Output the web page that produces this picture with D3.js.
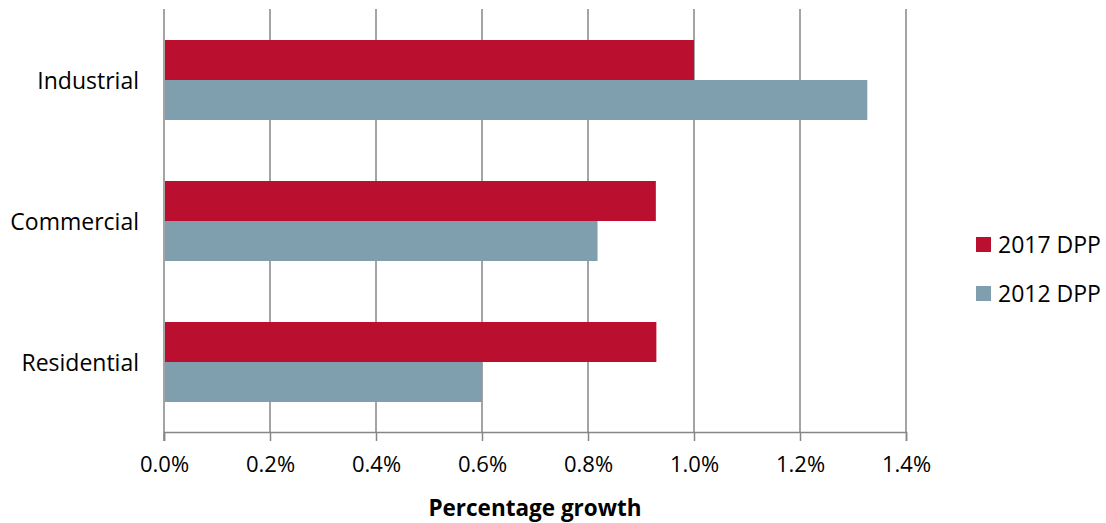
<!DOCTYPE html>
<html><head><meta charset="utf-8">
<script src="https://cdn.jsdelivr.net/npm/d3@7"></script>
<style>body{margin:0;background:#fff}svg{display:block}text{font-family:"Open Sans",sans-serif;fill:#000}</style>
</head><body>
<svg id="c" width="1106" height="523"></svg>
<script>
const categories = ["Industrial", "Commercial", "Residential"];
const seriesNames = ["2017 DPP", "2012 DPP"];
const values2017 = [1.0, 0.928, 0.929];
const values2012 = [1.327, 0.818, 0.6];
const tickValues = [0, 0.2, 0.4, 0.6, 0.8, 1.0, 1.2, 1.4];
const colors = ["#BA0F2F", "#7F9FAE"];

(function () {
const svg = d3.select("#c");
const pLeft = 164, pRight = 906, pTop = 9, pBottom = 432;
const x = d3.scaleLinear().domain([0, 1.4]).range([pLeft, pRight]);
const y = d3.scaleBand().domain(categories).range([pTop, pBottom]);
const sub = d3.scaleBand().domain(seriesNames).range([31, y.bandwidth() - 30]);

svg.append("g").selectAll("line").data(tickValues.slice(1)).join("line")
  .attr("x1", d => x(d)).attr("x2", d => x(d)).attr("y1", pTop).attr("y2", pBottom)
  .attr("stroke", "#868686").attr("stroke-width", 1.5);

const series = [values2017, values2012];
seriesNames.forEach((s, i) => {
  svg.append("g").selectAll("rect").data(categories).join("rect")
    .attr("x", x(0) + 1)
    .attr("y", c => y(c) + sub(s))
    .attr("width", (c, j) => x(series[i][j]) - x(0) - 1)
    .attr("height", sub.bandwidth())
    .attr("fill", colors[i]);
});

svg.append("line").attr("x1", pLeft).attr("x2", pLeft).attr("y1", pTop).attr("y2", pBottom + 9)
  .attr("stroke", "#868686").attr("stroke-width", 1.5);
const xa = svg.append("g").attr("transform", `translate(0,${pBottom})`)
  .call(d3.axisBottom(x).tickValues(tickValues).tickFormat(d => d.toFixed(1) + "%").tickSize(9).tickPadding(15));
xa.select(".domain").attr("stroke", "#868686").attr("stroke-width", 1.5);
xa.selectAll(".tick line").attr("stroke", "#868686").attr("stroke-width", 1.5);
xa.selectAll(".tick text").style("font-size", "22px").style("font-family", "'Open Sans',sans-serif").attr("fill", "#000");

svg.append("g").selectAll("text").data(categories).join("text")
  .attr("x", 139).attr("y", c => y(c) + y.bandwidth() / 2)
  .attr("text-anchor", "end").attr("dominant-baseline", "central")
  .style("font-size", "23px").text(c => c);

svg.append("text").attr("x", (pLeft + pRight) / 2).attr("y", 507)
  .attr("text-anchor", "middle").attr("dominant-baseline", "central")
  .style("font-size", "22.5px").style("font-weight", "bold").text("Percentage growth");

const lg = svg.append("g").selectAll("g").data(seriesNames).join("g")
  .attr("transform", (d, i) => `translate(976,${244 + i * 49})`);
lg.append("rect").attr("x", 0).attr("y", -7).attr("width", 15).attr("height", 15)
  .attr("fill", (d, i) => colors[i]);
lg.append("text").attr("x", 22).attr("y", 0).attr("dominant-baseline", "central")
  .style("font-size", "23px").text(d => d);
})();
</script>
</body></html>
